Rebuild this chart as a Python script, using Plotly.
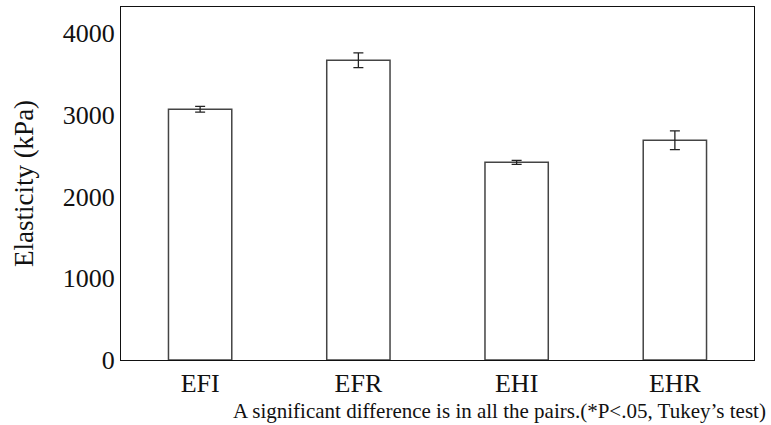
import plotly.graph_objects as go

categories = ["EFI", "EFR", "EHI", "EHR"]
elasticity = [3070, 3670, 2420, 2690]
errors = [35, 90, 25, 115]
y_ticks = [0, 1000, 2000, 3000, 4000]
note = "A significant difference is in all the pairs.(*P<.05, Tukey’s test)"

FONT = "Liberation Serif, Times New Roman, serif"

fig = go.Figure()
fig.add_trace(go.Bar(
    x=categories, y=elasticity, width=0.4,
    marker=dict(color="white", line=dict(color="#444444", width=1.5)),
    error_y=dict(type="data", array=errors, visible=True, color="#222222",
                 thickness=1.3, width=5),
))

fig.update_layout(
    width=771, height=425,
    margin=dict(l=121, r=17, t=7, b=65),
    paper_bgcolor="white", plot_bgcolor="white",
    showlegend=False,
    font=dict(family=FONT, color="#111111"),
    xaxis=dict(range=[-0.5, 3.5], showline=True, linecolor="#111111", linewidth=1.2,
               mirror=True, ticks="", showgrid=False,
               tickfont=dict(size=26, family=FONT)),
    yaxis=dict(range=[0, 4322], tickvals=y_ticks, showline=True, linecolor="#111111",
               linewidth=1.2, mirror=True, ticks="", showgrid=False, zeroline=False,
               tickfont=dict(size=26, family=FONT),
               title=dict(text="Elasticity (kPa)", font=dict(size=27, family=FONT), standoff=21)),
    annotations=[dict(text=note, xref="paper", yref="paper", x=1.022, y=-0.105,
                      xanchor="right", yanchor="top", showarrow=False,
                      font=dict(size=21, family=FONT, color="#111111"))],
)

fig.write_html("out.html")
